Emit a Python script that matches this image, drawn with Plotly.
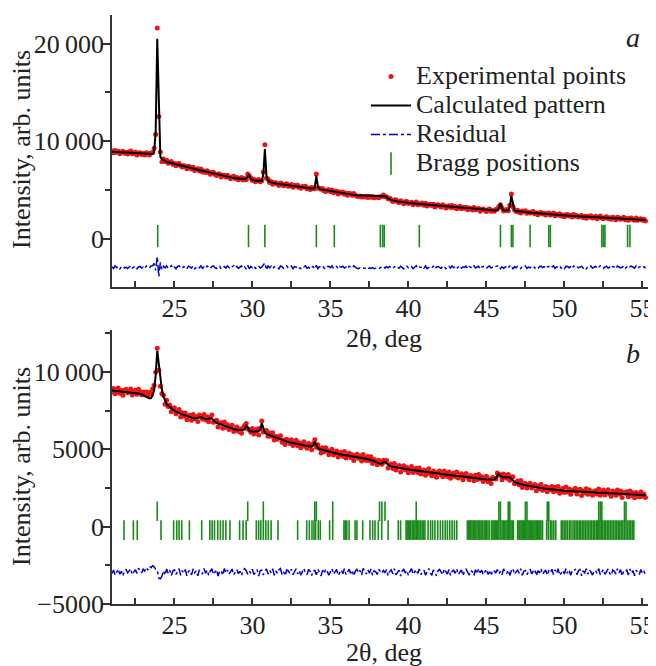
import numpy as np
import plotly.graph_objects as go

# ---------------- data ----------------
x_start, x_step = 21.0, 0.1  # measurement grid, 2theta (deg)

calc_a = [
 8940, 8930, 8920, 8910, 8900, 8890, 8880, 8870, 8860, 8850,
 8840, 8830, 8820, 8790, 8780, 8770, 8760, 8750, 8740, 8730,
 8720, 8710, 8700, 8690, 8680, 8680, 8700, 8900, 11000, 20500,
 13500, 8400, 8160, 8060, 7980, 7910, 7865, 7820, 7775, 7735,
 7690, 7650, 7610, 7570, 7530, 7490, 7450, 7410, 7370, 7330,
 7290, 7250, 7210, 7170, 7130, 7090, 7050, 7010, 6970, 6930,
 6890, 6850, 6810, 6770, 6730, 6690, 6655, 6620, 6585, 6550,
 6515, 6480, 6445, 6410, 6375, 6340, 6305, 6280, 6255, 6230,
 6200, 6175, 6150, 6140, 6130, 6140, 6200, 6450, 6600, 6150,
 6040, 6000, 5970, 5950, 5930, 5920, 5950, 6600, 9200, 6500,
 5950, 5840, 5780, 5740, 5710, 5680, 5650, 5630, 5610, 5590,
 5560, 5530, 5510, 5490, 5470, 5450, 5430, 5410, 5390, 5370,
 5330, 5310, 5290, 5270, 5250, 5230, 5210, 5190, 5170, 5150,
 5300, 6450, 5350, 5110, 5080, 5050, 5020, 4990, 4960, 4930,
 4900, 4870, 4840, 4815, 4790, 4765, 4740, 4715, 4690, 4665,
 4640, 4615, 4590, 4565, 4540, 4515, 4490, 4480, 4470, 4460,
 4450, 4440, 4430, 4420, 4410, 4400, 4390, 4380, 4370, 4360,
 4350, 4340, 4330, 4320, 4380, 4400, 4250, 4150, 4080, 4010,
 3960, 3920, 3880, 3850, 3820, 3800, 3780, 3760, 3740, 3720,
 3700, 3680, 3665, 3650, 3635, 3620, 3605, 3590, 3575, 3560,
 3545, 3530, 3515, 3500, 3485, 3470, 3455, 3440, 3425, 3410,
 3395, 3380, 3365, 3350, 3335, 3320, 3305, 3290, 3275, 3260,
 3245, 3230, 3215, 3200, 3185, 3170, 3155, 3140, 3125, 3110,
 3095, 3080, 3065, 3050, 3035, 3020, 3005, 2990, 2975, 2960,
 2945, 2935, 2925, 2915, 2905, 2900, 2910, 2950, 3150, 3650,
 3150, 2950, 2900, 2910, 2960, 3300, 4400, 3500, 2930, 2860,
 2830, 2810, 2790, 2775, 2760, 2745, 2730, 2715, 2700, 2685,
 2670, 2655, 2640, 2625, 2615, 2605, 2595, 2585, 2575, 2565,
 2550, 2537, 2525, 2512, 2500, 2487, 2475, 2462, 2450, 2437,
 2425, 2412, 2400, 2387, 2375, 2362, 2350, 2337, 2325, 2312,
 2300, 2292, 2284, 2276, 2268, 2260, 2252, 2244, 2236, 2228,
 2220, 2212, 2204, 2196, 2188, 2180, 2172, 2164, 2156, 2148,
 2140, 2132, 2124, 2116, 2108, 2100, 2092, 2084, 2076, 2068,
 2060, 2050, 2040, 2030, 2020, 2010, 2000, 1990, 1980, 1970,
 1960, 1950, 1940]

diff_a = [
 60, -110, 150, -40, 90, -160, 30, 120, -80, 10,
 -130, 70, 180, -60, -10, 110, -150, 40, 90, -70,
 20, -120, 140, 60, -90, 130, 150, 400, -300, 1100,
 -950, 500, -250, 120, -60, 150, -110, 30, 170, -90,
 40, -140, 90, 160, -30, -120, 70, 10, -170, 120,
 50, -80, 140, -150, 20, 100, -60, 160, -110, 30,
 -90, 130, 10, -140, 80, 150, -40, -120, 60, 110,
 -160, 20, 90, -70, 140, -20, -130, 60, 170, -50,
 100, -110, 30, 150, -80, 40, -140, 200, -150, 90,
 -40, 120, -100, 60, 160, -70, 20, 250, 450, -280,
 180, -60, 110, -130, 40, 90, -20, -150, 130, 60,
 -100, 30, 150, -80, -10, 120, -140, 70, 20, 140,
 -60, -120, 90, 40, 160, -90, 10, -130, 110, 50,
 -150, 200, -120, 80, 20, 130, -70, -140, 60, 100,
 -30, 150, -110, 40, 90, -160, 70, 10, 120, -80,
 30, -140, 100, 60, -50, 150, -20, -100, -130, -60,
 -150, -80, -120, -40, -170, -60, -110, -20, -140, -90,
 -50, -130, -10, 40, 120, -80, 70, -40, 100, 20,
 -120, 60, 140, -30, -90, 110, 20, -150, 80, 130,
 -60, 10, 90, -140, 50, 160, -100, 30, -20, 120,
 -80, 140, -130, 20, 70, -50, 110, -160, 40, 90,
 -20, -110, 130, 60, -150, 30, 100, -70, 150, -40,
 80, -130, 20, 160, -90, 50, -10, 120, -140, 70,
 10, -100, 150, -60, 40, 110, -170, 30, 90, -30,
 -120, 60, 140, -80, 20, -50, 100, 130, 180, -140,
 50, -90, 20, 110, -70, 150, 200, -180, 60, -40,
 120, -60, -130, 80, 30, 140, -100, 20, -50, 90,
 150, -80, 10, -140, 70, 120, -30, 60, -120, 40,
 100, -70, 30, 160, -110, 50, -20, 130, -90, 20,
 -140, 80, 110, -40, 60, -120, 150, -10, 90, -60,
 30, 120, -90, 50, -150, 70, 10, 140, -80, -20,
 100, -130, 60, 160, -50, -100, 40, 110, -70, 20,
 -110, 90, 30, -140, 130, 50, -60, 10, 150, -90,
 40, -120, 80, 120, -30, -80, 160, -60, 20, 100,
 -50, 70, -100]

calc_b = [
 8800, 8790, 8780, 8770, 8760, 8750, 8740, 8730, 8720, 8710,
 8700, 8690, 8680, 8670, 8660, 8650, 8640, 8630, 8600, 8560,
 8510, 8460, 8400, 8340, 8300, 8320, 8480, 8800, 9800, 11380,
 10500, 9500, 8850, 8400, 8100, 7950, 7830, 7730, 7640, 7570,
 7500, 7440, 7390, 7340, 7300, 7260, 7220, 7180, 7140, 7100,
 7070, 7050, 7030, 7020, 7020, 7030, 7060, 7090, 7070, 7010,
 6960, 6960, 6980, 7010, 6990, 6900, 6780, 6720, 6680, 6640,
 6600, 6560, 6520, 6480, 6440, 6410, 6380, 6350, 6320, 6290,
 6270, 6260, 6250, 6250, 6250, 6300, 6550, 6450, 6200, 6160,
 6150, 6145, 6140, 6150, 6170, 6260, 6690, 6300, 6100, 6000,
 5960, 5920, 5880, 5840, 5800, 5760, 5720, 5660, 5630, 5600,
 5570, 5540, 5510, 5480, 5455, 5430, 5405, 5380, 5355, 5330,
 5305, 5285, 5265, 5245, 5230, 5215, 5200, 5180, 5190, 5260,
 5500, 5300, 5100, 5020, 4990, 4960, 4930, 4900, 4870, 4840,
 4810, 4785, 4760, 4740, 4720, 4700, 4680, 4660, 4640, 4620,
 4600, 4580, 4560, 4540, 4525, 4510, 4495, 4480, 4465, 4450,
 4435, 4420, 4405, 4390, 4370, 4340, 4310, 4280, 4240, 4200,
 4150, 4100, 4060, 4090, 4180, 4210, 4100, 4000, 3950, 3900,
 3870, 3855, 3840, 3825, 3810, 3775, 3760, 3745, 3725, 3710,
 3690, 3675, 3660, 3640, 3625, 3605, 3590, 3575, 3560, 3545,
 3530, 3515, 3500, 3490, 3480, 3465, 3450, 3440, 3430, 3420,
 3410, 3400, 3390, 3380, 3370, 3360, 3350, 3340, 3330, 3320,
 3310, 3300, 3290, 3280, 3270, 3260, 3250, 3240, 3230, 3220,
 3205, 3190, 3175, 3160, 3145, 3130, 3115, 3100, 3085, 3070,
 3055, 3040, 3025, 3020, 3030, 3050, 3120, 3300, 3410, 3300,
 3210, 3190, 3190, 3210, 3230, 3200, 3100, 2980, 2900, 2840,
 2800, 2775, 2750, 2725, 2700, 2680, 2650, 2625, 2600, 2585,
 2570, 2555, 2540, 2525, 2510, 2495, 2480, 2465, 2450, 2435,
 2425, 2415, 2405, 2395, 2385, 2375, 2365, 2355, 2345, 2335,
 2325, 2317, 2309, 2301, 2293, 2285, 2277, 2269, 2261, 2253,
 2245, 2240, 2236, 2232, 2228, 2224, 2220, 2216, 2212, 2208,
 2204, 2200, 2196, 2192, 2188, 2184, 2180, 2176, 2172, 2168,
 2164, 2160, 2155, 2150, 2145, 2140, 2135, 2130, 2125, 2120,
 2115, 2110, 2104, 2098, 2092, 2086, 2080, 2074, 2068, 2062,
 2050, 2040, 2030]

diff_b = [
 -80, 150, -190, 40, 210, -120, 60, -230, 110, 180,
 -40, 90, 230, -150, 20, 170, -70, 260, 120, -30,
 200, 80, 310, 150, 380, 300, 420, 350, 200, 160,
 -380, -420, -250, 100, -180, 220, -60, 140, -210, 70,
 190, -140, 30, 240, -200, 110, -60, 180, -230, 50,
 130, -170, 220, -30, 90, -220, 160, 40, -110, 250,
 -60, 140, -200, 80, 230, -140, 20, 170, -240, 60,
 110, -190, 250, -50, 150, -120, 40, 210, -160, -20,
 180, -90, 60, -210, 130, 240, 120, -130, 90, -60,
 200, -150, 30, 170, -240, 100, 150, -170, 60, 220,
 -110, 140, -30, 230, -190, 80, -60, 170, 250, -140,
 40, -220, 150, 90, -70, 200, -160, 30, 230, -100,
 120, -180, 60, 250, -40, -150, 180, 70, -210, 100,
 120, -160, 200, 30, -230, 140, -80, 210, 60, -190,
 90, 230, -120, 40, 180, -200, 20, 150, -90, 240,
 -150, 60, 190, -70, 130, -230, 80, 210, -40, 120,
 -180, 250, 30, -110, 170, -60, 220, -190, 100, 40,
 -140, 200, 70, -60, 120, -30, 180, -210, 50, 160,
 -100, 230, -170, 20, 140, -240, 90, 190, -50, 110,
 -200, 60, 240, -130, 30, 170, -80, 220, -150, 40,
 130, -190, 80, 250, -60, -170, 150, 20, -230, 100,
 190, -40, -160, 220, 70, -110, 180, -200, 50, 140,
 -70, 230, -140, 30, 160, -220, 90, 200, -30, -180,
 110, 40, -210, 170, -90, 240, -20, 130, -160, 70,
 200, -130, 50, -220, 150, 90, -40, 180, -100, 60,
 -170, 220, 30, -80, 140, -200, 100, 250, -130, 20,
 160, -60, 230, -190, 70, 120, -150, 40, 210, -90,
 30, 180, -220, 100, -40, 240, -120, 60, 150, -180,
 90, -30, 200, -140, 170, -70, 230, -200, 20, 130,
 -110, 250, -60, 140, -190, 80, 40, 210, -150, 100,
 180, -220, 70, -40, 230, -120, 150, 30, -180, 60,
 120, -90, 240, -160, 10, 190, -130, 80, 220, -50,
 -200, 140, 60, -110, 230, -30, 170, -240, 90, 40,
 150, -170, 210, -60, 100, -220, 130, 20, -140, 180,
 -80, 60, -150]

residual_offset_a = -2900
residual_offset_b = -2950

bragg_a = [23.93, 29.75, 30.8, 34.1, 35.25, 38.2, 38.35, 38.45, 40.7, 45.9,
           46.6, 46.7, 47.8, 49.0, 49.1, 52.4, 52.5, 52.6, 54.05, 54.2]
bragg_b1 = [23.9, 29.7, 30.7, 34.0, 34.1, 35.15, 38.15, 38.3, 38.5, 40.5,
            45.8, 45.9, 46.4, 46.5, 47.5, 47.6, 48.9, 49.0, 52.2, 52.3,
            52.4, 53.85, 53.95]
bragg_b2 = [
 21.77, 22.37, 22.62, 24.14, 24.95, 25.15, 25.3, 25.47, 25.96, 26.75,
 27.27, 27.42, 27.57, 27.78, 27.95, 28.12, 28.3, 28.56, 29.18, 29.4,
 29.6, 30.25, 30.4, 30.54, 30.7, 30.86, 31.02, 31.2, 31.64, 32.9,
 33.48, 33.65, 33.82, 33.95, 34.05, 34.22, 34.35, 34.95, 35.15, 35.87,
 35.95, 36.05, 36.2, 36.58, 36.7, 37.07, 37.54, 37.71, 37.86, 38.07,
 38.29, 38.7, 39.35, 39.5,
 39.85, 39.92, 40.0, 40.08, 40.15, 40.25, 40.33, 40.42, 40.5, 40.6,
 40.68, 40.78, 40.88, 40.97, 41.06,
 41.26, 41.42, 41.55, 41.7, 41.88, 42.05, 42.2, 42.36, 42.5, 42.65,
 42.8, 42.95, 43.1,
 43.78, 43.86, 43.93, 44.0, 44.08, 44.17, 44.25, 44.33, 44.4, 44.5,
 44.58, 44.66, 44.75, 44.85, 44.93, 45.0, 45.1, 45.2,
 45.34, 45.42, 45.5, 45.56, 45.63, 45.72, 45.8, 45.9, 46.0, 46.08,
 46.15, 46.25, 46.33, 46.42, 46.5, 46.58, 46.66, 46.73,
 47.0, 47.08, 47.15, 47.22, 47.3, 47.38, 47.45, 47.52, 47.6, 47.67,
 47.74, 47.82, 47.9, 47.97, 48.05, 48.12, 48.2, 48.28, 48.35, 48.43,
 48.5, 48.6,
 48.86, 48.97, 49.1, 49.2, 49.32, 49.45,
 49.8, 49.9, 50.0, 50.1, 50.2, 50.32, 50.42, 50.55, 50.65, 50.75,
 50.85, 50.95, 51.05, 51.15, 51.25, 51.35, 51.45, 51.55, 51.65, 51.75,
 51.85, 51.95, 52.05, 52.12, 52.2, 52.28, 52.36, 52.45, 52.55, 52.65,
 52.75, 52.85, 52.95, 53.05, 53.15, 53.25, 53.35, 53.45, 53.55, 53.65,
 53.75, 53.85, 53.95, 54.05, 54.15, 54.25, 54.35, 54.45]

# Bragg tick rows (vertical placement of the marker rows)
bragg_row_a = 300
bragg_row_b1 = 1000
bragg_row_b2 = -220

xtick_vals = [25, 30, 35, 40, 45, 50, 55]
ytick_vals_a = [0, 10000, 20000]
ytick_text_a = ["0", "10\u2009000", "20\u2009000"]
ytick_vals_b = [-5000, 0, 5000, 10000]
ytick_text_b = ["\u22125000", "0", "5000", "10\u2009000"]

assert len(calc_a) == len(diff_a) == len(calc_b) == len(diff_b) == 343

# ---------------- build ----------------
n = len(calc_a)
x = np.round(x_start + x_step * np.arange(n), 2)
calc_a_arr = np.array(calc_a, float)
calc_b_arr = np.array(calc_b, float)
obs_a = calc_a_arr + np.array(diff_a, float)
obs_b = calc_b_arr + np.array(diff_b, float)
res_a = residual_offset_a + np.array(diff_a, float)
res_b = residual_offset_b + np.array(diff_b, float)

FONT = "Liberation Serif"
RED = "#ee1414"
GREEN = "#1a8a1a"
BLUE = "#0000cc"
AX = "#333333"
TXT = "#222222"
FS = 26

fig = go.Figure()

def lbl(s):
    return '<span style="font-size:%dpx">%s</span>' % (FS, s)

def panel(xa, ya, obs, calc, res, brows, legend):
    fig.add_trace(go.Scatter(x=x, y=obs, mode="markers", name=lbl("Experimental points"),
                             marker=dict(color=RED, size=5), xaxis=xa, yaxis=ya,
                             showlegend=legend))
    fig.add_trace(go.Scatter(x=x, y=calc, mode="lines", name=lbl("Calculated pattern"),
                             line=dict(color="black", width=2), xaxis=xa, yaxis=ya,
                             showlegend=legend))
    fig.add_trace(go.Scatter(x=x, y=res, mode="lines", name=lbl("Residual"),
                             line=dict(color=BLUE, width=1.5, dash="dashdot"),
                             xaxis=xa, yaxis=ya, showlegend=legend))
    first = True
    for pos, row, sz in brows:
        fig.add_trace(go.Scatter(x=pos, y=[row] * len(pos), mode="markers",
                                 name=lbl("Bragg positions"),
                                 marker=dict(symbol="line-ns", size=sz,
                                             line=dict(width=1.6, color=GREEN)),
                                 xaxis=xa, yaxis=ya, showlegend=legend and first))
        first = False

panel("x", "y", obs_a, calc_a_arr, res_a, [(bragg_a, bragg_row_a, 16)], True)
panel("x2", "y2", obs_b, calc_b_arr, res_b,
      [(bragg_b1, bragg_row_b1, 14), (bragg_b2, bragg_row_b2, 14)], False)

# page body has an 8 px margin: figure is 8 px smaller, reference pixel coords map directly
W, H = 648, 658
ml, mr, mt, mb = 104, 1, 7, 62
plot_w = W - ml - mr
plot_h = H - mt - mb

def py(p):  # reference-image pixel row -> paper y
    return (604 - p) / plot_h

def px(p):  # reference-image pixel column -> paper x
    return (p - 112) / plot_w

xr = [21.0, 21.0 + plot_w / 15.6]
xaxis_common = dict(range=xr, showline=True, linecolor=AX, linewidth=1.6,
                    ticks="inside", ticklen=6, tickwidth=1.5, tickcolor=AX,
                    tickvals=xtick_vals, showgrid=False, zeroline=False,
                    ticklabelstandoff=-3,
                    minor=dict(ticks="inside", ticklen=6, tickwidth=1.5,
                               tickcolor=AX, tick0=22.5, dtick=5),
                    tickfont=dict(family=FONT, size=FS, color=TXT))
yaxis_common = dict(showline=True, linecolor=AX, linewidth=1.6,
                    ticks="outside", ticklen=9, tickwidth=1.5, tickcolor=AX,
                    showgrid=False, zeroline=False, ticklabelstandoff=-8,
                    tickfont=dict(family=FONT, size=FS, color=TXT))

fig.update_layout(
    width=W, height=H, margin=dict(l=ml, r=mr, t=mt, b=mb, autoexpand=False),
    paper_bgcolor="white", plot_bgcolor="white",
    font=dict(family=FONT, size=FS, color=TXT),
    xaxis=dict(domain=[0, 1], anchor="y", **xaxis_common),
    xaxis2=dict(domain=[0, 1], anchor="y2", **xaxis_common),
    yaxis=dict(domain=[py(287), 1], anchor="x",
               range=[-4913, 22927], tickvals=ytick_vals_a, ticktext=ytick_text_a,
               minor=dict(ticks="outside", ticklen=5, tickwidth=1.5, tickcolor=AX,
                          tick0=0, dtick=5000),
               **yaxis_common),
    yaxis2=dict(domain=[0, py(330)], anchor="x2",
                range=[-5000, 12720], tickvals=ytick_vals_b, ticktext=ytick_text_b,
                minor=dict(ticks="outside", ticklen=5, tickwidth=1.5, tickcolor=AX,
                           tick0=0, dtick=2500),
                **yaxis_common),
    legend=dict(x=px(366), y=py(57), xanchor="left", yanchor="top",
                bgcolor="rgba(0,0,0,0)", itemwidth=40,
                font=dict(family=FONT, size=20, color=TXT), tracegroupgap=0),
    showlegend=True,
)

ann = [
    dict(text="2\u03b8, deg", x=px(384), y=py(338), xref="paper", yref="paper",
         showarrow=False, xanchor="center", yanchor="middle",
         font=dict(family=FONT, size=FS, color=TXT)),
    dict(text="2\u03b8, deg", x=px(384), y=py(652), xref="paper", yref="paper",
         showarrow=False, xanchor="center", yanchor="middle",
         font=dict(family=FONT, size=FS, color=TXT)),
    dict(text="Intensity, arb. units", x=px(21), y=py(150), xref="paper", yref="paper",
         showarrow=False, textangle=-90, xanchor="center", yanchor="middle",
         font=dict(family=FONT, size=FS, color=TXT)),
    dict(text="Intensity, arb. units", x=px(21), y=py(467), xref="paper", yref="paper",
         showarrow=False, textangle=-90, xanchor="center", yanchor="middle",
         font=dict(family=FONT, size=FS, color=TXT)),
    dict(text="<i>a</i>", x=px(633), y=py(37), xref="paper", yref="paper",
         showarrow=False, xanchor="center", yanchor="middle",
         font=dict(family=FONT, size=28, color=TXT)),
    dict(text="<i>b</i>", x=px(633), y=py(353), xref="paper", yref="paper",
         showarrow=False, xanchor="center", yanchor="middle",
         font=dict(family=FONT, size=28, color=TXT)),
]
fig.update_layout(annotations=ann)

fig.write_html("out.html")
